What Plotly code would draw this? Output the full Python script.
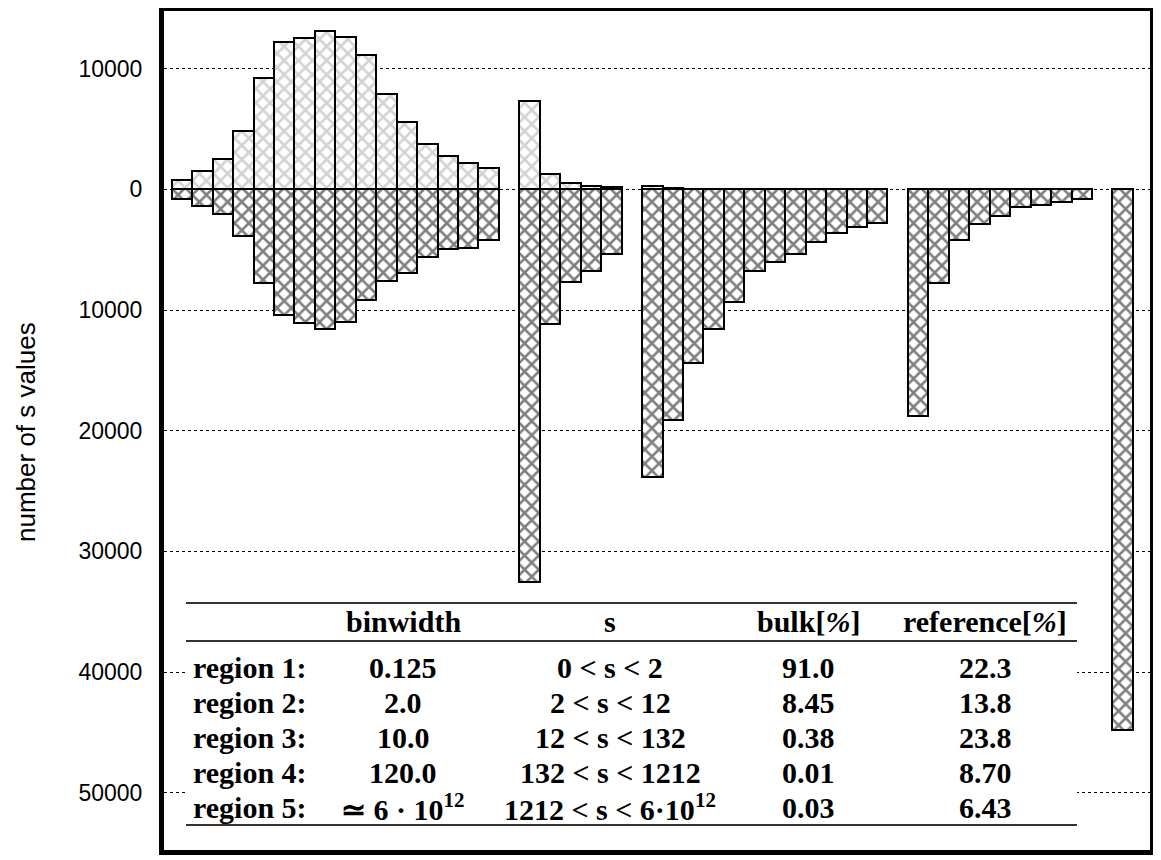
import plotly.graph_objects as go

# number of s values per bin, bulk counts above zero, reference counts below
region_counts = [16, 5, 12, 9, 1]

bulk_r1 = [800, 1550, 2550, 4800, 9200, 12200, 12500, 13150, 12600, 11150, 7900, 5600, 3750, 2800, 2200, 1750]
bulk_r2 = [7350, 1250, 550, 300, 150]
bulk_r3 = [300, 100, None, None, None, None, None, None, None, None, None, None]
bulk_r4 = [None] * 9
bulk_r5 = [None]

ref_r1 = [800, 1400, 2050, 3850, 7750, 10450, 11050, 11600, 11000, 9150, 7600, 6900, 5600, 4950, 4850, 4200]
ref_r2 = [32550, 11150, 7700, 6750, 5350]
ref_r3 = [23800, 19150, 14400, 11550, 9300, 6800, 6050, 5350, 4400, 3650, 3100, 2800]
ref_r4 = [18750, 7750, 4200, 2850, 2200, 1450, 1300, 1050, 800]
ref_r5 = [44800]

tick_vals = [10000, 0, -10000, -20000, -30000, -40000, -50000]
tick_text = ["10000", "0", "10000", "20000", "30000", "40000", "50000"]

# table in the lower part of the plot
table_header = ["binwidth", "s", "bulk[<i>%</i>]", "reference[<i>%</i>]"]
row_labels = ["region 1:", "region 2:", "region 3:", "region 4:", "region 5:"]
binwidths = ["0.125", "2.0", "10.0", "120.0", "\u2243 6 \u00b7 10<sup>12</sup>"]
s_ranges = ["0 &lt; s &lt; 2", "2 &lt; s &lt; 12", "12 &lt; s &lt; 132", "132 &lt; s &lt; 1212",
            "1212 &lt; s &lt; 6\u00b710<sup>12</sup>"]
bulk_pct = ["91.0", "8.45", "0.38", "0.01", "0.03"]
ref_pct = ["22.3", "13.8", "23.8", "8.70", "6.43"]

bulk = bulk_r1 + bulk_r2 + bulk_r3 + bulk_r4 + bulk_r5
ref = [-v for v in ref_r1 + ref_r2 + ref_r3 + ref_r4 + ref_r5]

# bins are adjacent inside a region, one empty slot between regions
x_pos = []
offset = 0
for n in region_counts:
    x_pos += list(range(offset, offset + n))
    offset += n + 1

# page body adds 8px around the figure
OFF = 8
W, H = 1161, 860
L, T = 164 - OFF, 11 - OFF
pw, ph = 986, 839
R, B = W - L - pw, H - T - ph


def px_x(px):
    return (px - OFF - L) / pw


def px_y(py):
    return (T + ph - (py - OFF)) / ph


fig = go.Figure()
fig.add_trace(go.Bar(x=x_pos, y=bulk, width=1,
                     marker=dict(color="white", line=dict(color="black", width=2),
                                 pattern=dict(shape="x", fgcolor="#a6a6a6", bgcolor="white",
                                              size=10, solidity=0.45))))
fig.add_trace(go.Bar(x=x_pos, y=ref, width=1,
                     marker=dict(color="white", line=dict(color="black", width=2),
                                 pattern=dict(shape="x", fgcolor="black", bgcolor="white",
                                              size=10, solidity=0.45))))

# white box + rules for the table
tx0, tx1 = px_x(186), px_x(1077)
fig.add_shape(type="rect", xref="paper", yref="paper", x0=tx0, x1=tx1, y0=px_y(827), y1=px_y(600),
              fillcolor="white", line_width=0, layer="above")
for ry in [603, 641, 825]:
    fig.add_shape(type="line", xref="paper", yref="paper", x0=tx0, x1=tx1, y0=px_y(ry), y1=px_y(ry),
                  line=dict(color="#333333", width=2), layer="above")

tfont = dict(family="Liberation Serif, Times New Roman, serif", size=30, color="black")
col_x = [403, 610, 808, 985]
row_y = [667, 702, 737, 772, 807]

for cx, txt in zip(col_x, table_header):
    fig.add_annotation(x=px_x(cx), y=px_y(621), xref="paper", yref="paper", text="<b>" + txt + "</b>",
                       showarrow=False, font=tfont, xanchor="center", yanchor="middle")
for i, ry in enumerate(row_y):
    fig.add_annotation(x=px_x(191), y=px_y(ry), xref="paper", yref="paper", text="<b>" + row_labels[i] + "</b>",
                       showarrow=False, font=tfont, xanchor="left", yanchor="middle")
    for cx, col in zip(col_x, [binwidths, s_ranges, bulk_pct, ref_pct]):
        fig.add_annotation(x=px_x(cx), y=px_y(ry), xref="paper", yref="paper", text="<b>" + col[i] + "</b>",
                           showarrow=False, font=tfont, xanchor="center", yanchor="middle")

# y axis title
fig.add_annotation(x=px_x(26), y=px_y(432), xref="paper", yref="paper", text="number of s values",
                   textangle=-90, showarrow=False, xanchor="center", yanchor="middle",
                   font=dict(family="Liberation Sans, Arial, sans-serif", size=26, color="black"))

y_top = (189.3 - 11) / 120.7 * 10000
y_bot = -(850 - 189.3) / 120.7 * 10000
x_left = -0.5 - (171.7 - 164) / 20.45
x_right = x_left + pw / 20.45

fig.update_layout(
    width=W, height=H,
    margin=dict(l=L, r=R, t=T, b=B, autoexpand=False),
    barmode="relative",
    bargap=0,
    showlegend=False,
    plot_bgcolor="white",
    paper_bgcolor="white",
    xaxis=dict(range=[x_left, x_right], showgrid=False, zeroline=False, showticklabels=False,
               ticks="", showline=True, mirror=True, linewidth=5, linecolor="black"),
    yaxis=dict(range=[y_bot, y_top], tickvals=tick_vals, ticktext=tick_text, ticks="",
               showgrid=True, gridcolor="black", gridwidth=1, griddash="3px,3px",
               zeroline=False, showline=True, mirror=True, linewidth=5, linecolor="black",
               ticklabelstandoff=12,
               tickfont=dict(family="Liberation Sans, Arial, sans-serif", size=23, color="black")),
)

fig.write_html("out.html")
